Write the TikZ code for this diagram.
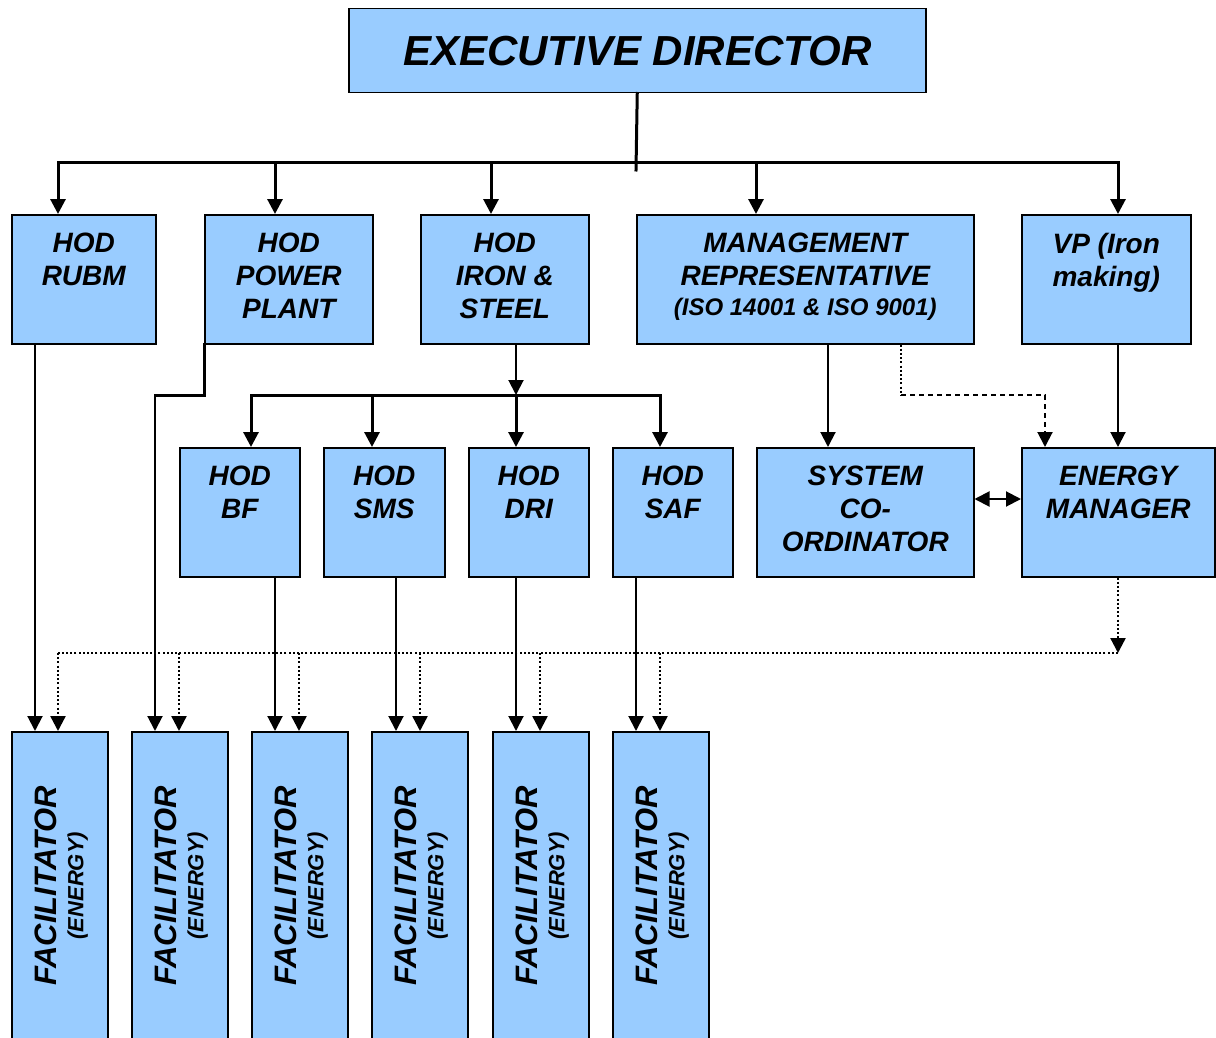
\documentclass[tikz,border=0pt]{standalone}
\usepackage{fontspec}
\setmainfont{Liberation Sans}
\usetikzlibrary{arrows.meta}

\definecolor{boxblue}{RGB}{153,204,255}
% top aligned text inside a 129pt high box
\newcommand{\cell}[2]{\parbox[c][129pt][t]{#1}{\centering\vspace*{18pt}#2}}

\begin{document}
\begin{tikzpicture}[x=1pt, y=-1pt, >={Triangle[length=15pt,width=15pt]},
    box/.style={draw=black, line width=1.5pt, fill=boxblue, inner sep=0pt, anchor=north west,
                font=\fontsize{28}{33}\selectfont\bfseries\itshape},
    trunk/.style={line width=3pt, line cap=rect},
    feed/.style={line width=2pt},
    dots/.style={line width=2.4pt, dash pattern=on 2pt off 2.2pt},
    dashline/.style={line width=2pt, dash pattern=on 5pt off 4pt}]

    \useasboundingbox (0,0) rectangle (1216,1038);

    \node[box, minimum width=577, minimum height=84, font=\fontsize{42}{48}\selectfont\bfseries\itshape] (ed) at (348,8) {EXECUTIVE DIRECTOR};

    \node[box] (rubm)  at (11,214)   {\cell{144pt}{HOD\\RUBM}};
    \node[box] (power) at (204,214)  {\cell{168pt}{HOD\\POWER\\PLANT}};
    \node[box] (iron)  at (420,214)  {\cell{168pt}{HOD\\IRON \&\\STEEL}};
    \node[box] (mgmt)  at (636,214)  {\cell{337pt}{MANAGEMENT\\REPRESENTATIVE\\[-3pt]{\fontsize{24}{28}\selectfont(ISO 14001 \& ISO 9001)}}};
    \node[box] (vp)    at (1021,214) {\cell{169pt}{VP (Iron\\making)}};

    \node[box] (bf)  at (179,447)  {\cell{120pt}{HOD\\BF}};
    \node[box] (sms) at (323,447)  {\cell{121pt}{HOD\\SMS}};
    \node[box] (dri) at (468,447)  {\cell{120pt}{HOD\\DRI}};
    \node[box] (saf) at (612,447)  {\cell{120pt}{HOD\\SAF}};
    \node[box] (sys) at (756,447)  {\cell{217pt}{SYSTEM\\CO-\\ORDINATOR}};
    \node[box] (em)  at (1021,447) {\cell{193pt}{ENERGY\\MANAGER}};

    \foreach \i/\x in {1/11,2/131,3/251,4/371,5/492,6/612}
        \node[box, minimum width=96, minimum height=308] (fac\i) at (\x,731)
            {\hspace{3pt}\rotatebox{90}{\parbox{230pt}{\centering\fontsize{31}{27}\selectfont FACILITATOR\\\fontsize{22}{27}\selectfont(ENERGY)}}};

    % top level
    \coordinate (edfoot) at (636,170);
    \draw[trunk] (ed.south) -- (edfoot);
    \draw[trunk] (58,163) -- (1118,163);
    \foreach \x/\n in {58/rubm,275/power,491/iron,756/mgmt,1118/vp}
        \draw[trunk,->] (\x,163) -- (\x,163 |- \n.north);

    % iron & steel
    \coordinate (ironbus) at (516,395);
    \draw[feed,->] (ironbus |- iron.south) -- (ironbus);
    \draw[trunk] (251,395) -- (660,395);
    \foreach \x/\n in {251/bf,372/sms,516/dri,660/saf}
        \draw[trunk,->] (\x,395) -- (\x,395 |- \n.north);

    % power plant and rubm
    \coordinate (ppbend) at (155,395);
    \draw[trunk] (power.south west) |- (ppbend);
    \draw[feed,->] (ppbend) -- (ppbend |- fac2.north);
    \draw[feed,->] (35,0 |- rubm.south) -- (35,0 |- fac1.north);

    \foreach \x/\n/\i in {275/bf/3,396/sms/4,516/dri/5,636/saf/6}
        \draw[feed,->] (\x,0 |- \n.south) -- (\x,0 |- fac\i.north);

    % management representative
    \draw[feed,->] (828,0 |- mgmt.south) -- (828,0 |- sys.north);
    \coordinate (mrbend) at (901,395);
    \draw[dots] (mrbend |- mgmt.south) -- (mrbend);
    \draw[dashline,->] (mrbend) -| (1045,0 |- em.north);

    \draw[feed,->] (1118,0 |- vp.south) -- (1118,0 |- em.north);
    \draw[feed,<->] (sys.east |- 0,499) -- (em.west |- 0,499);

    % energy manager
    \coordinate (embend) at (1118,653);
    \draw[dots,->] (embend |- em.south) -- (embend);
    \draw[dots] (embend) -- (58,653);
    \foreach \x/\i in {58/1,179/2,299/3,420/4,540/5,660/6}
        \draw[dots,->] (\x,653) -- (\x,653 |- fac\i.north);
\end{tikzpicture}
\end{document}
